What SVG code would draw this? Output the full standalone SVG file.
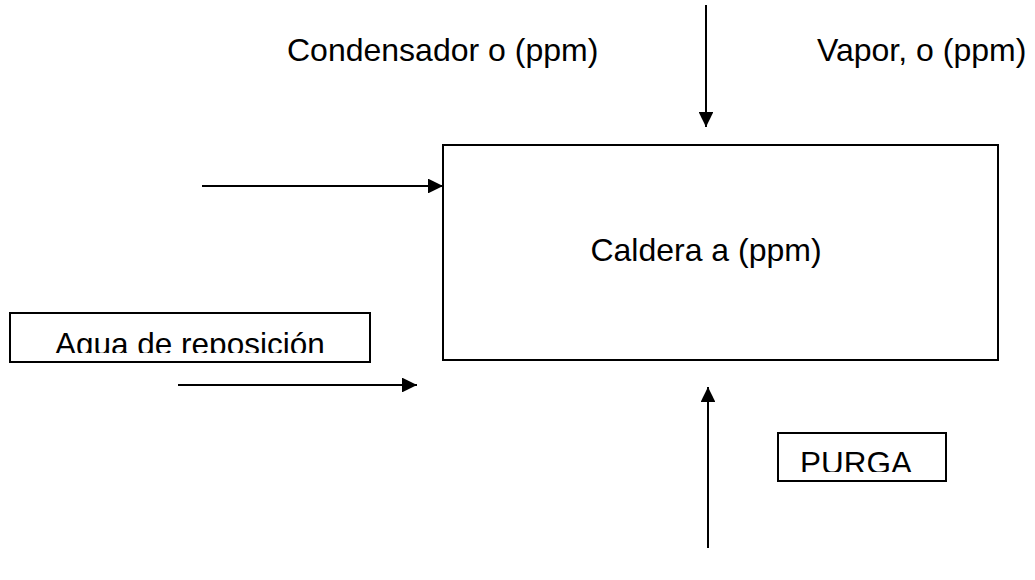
<svg xmlns="http://www.w3.org/2000/svg" width="1035" height="580" viewBox="0 0 1035 580">
<style>
.box{fill:#fff;stroke:#000;stroke-width:2}
.lbl{font-family:"Liberation Sans",Arial,sans-serif;font-size:32px;fill:#000}
.inbox{font-size:31.5px}
.conn{stroke:#000;stroke-width:2;fill:none;marker-end:url(#arr)}
</style>
<defs>
<marker id="arr" markerWidth="7.5" markerHeight="7.4" refX="7.5" refY="3.7" orient="auto" markerUnits="strokeWidth">
<path d="M0,0 L7.5,3.7 L0,7.4 Z" fill="#000"/>
</marker>
<clipPath id="clipAgua"><rect x="10" y="313" width="360" height="40"/></clipPath>
<clipPath id="clipPurga"><rect x="778" y="433" width="168" height="39"/></clipPath>
</defs>
<rect width="1035" height="580" fill="#fff"/>
<g id="connectors">
<line class="conn" x1="706" y1="5" x2="706" y2="127"/>
<line class="conn" x1="202" y1="186" x2="443" y2="186"/>
<line class="conn" x1="178" y1="385" x2="417" y2="385"/>
<line class="conn" x1="708" y1="548" x2="708" y2="387"/>
</g>
<g id="condensador">
<text class="lbl" x="287" y="61">Condensador o (ppm)</text>
</g>
<g id="vapor">
<text class="lbl" x="817" y="61">Vapor, o (ppm)</text>
</g>
<g id="caldera">
<rect class="box" x="443" y="145" width="555" height="215"/>
<text class="lbl" x="706" y="261" text-anchor="middle">Caldera a (ppm)</text>
</g>
<g id="agua">
<rect class="box" x="10" y="313" width="360" height="49"/>
<text class="lbl inbox" x="55" y="354.5" clip-path="url(#clipAgua)">Agua de reposición</text>
</g>
<g id="purga">
<rect class="box" x="778" y="433" width="168" height="48"/>
<text class="lbl inbox" x="800" y="474" clip-path="url(#clipPurga)">PURGA</text>
</g>
</svg>
